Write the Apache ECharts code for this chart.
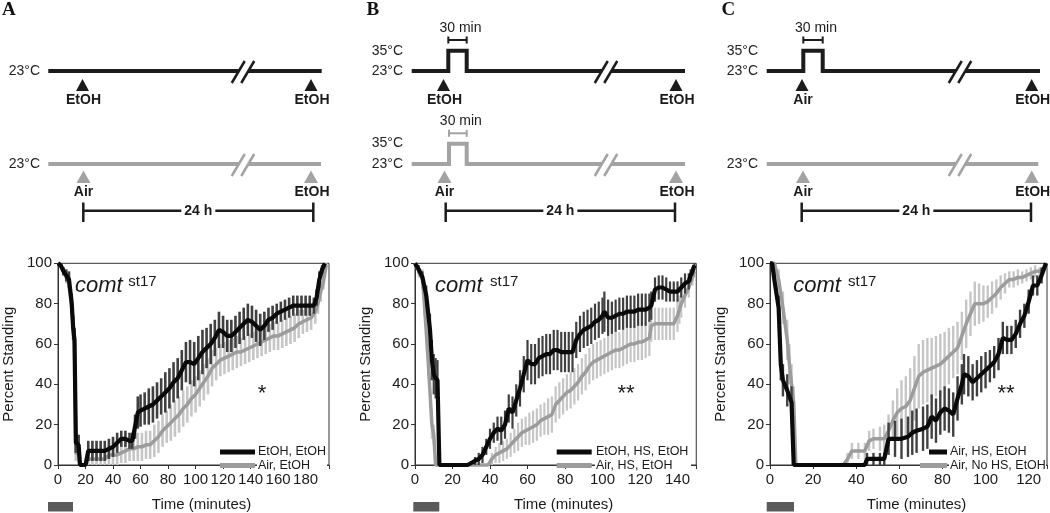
<!DOCTYPE html>
<html>
<head>
<meta charset="utf-8">
<script src="https://cdn.jsdelivr.net/npm/echarts/dist/echarts.min.js"></script>
<style>
html,body{margin:0;padding:0;background:#fff;}
#chart{width:1050px;height:513px;}
</style>
</head>
<body>
<div id="chart"></div>
<script>
// ---------------- DATA ----------------
const yTicks = [0, 20, 40, 60, 80, 100];
const xTickStep = 20;

// Panel A
const aBlackT = [0,2,4,6,8,10,11,12,13,15,16,18,20,21,22,25,28,31,34,37,40,43,46,49,52,54,56,58,60,63,66,69,72,75,78,81,84,87,90,93,96,99,102,105,108,111,114,117,120,123,126,129,132,135,138,141,144,147,150,153,156,159,162,165,168,171,174,177,180,183,186,188,190,192,194];
const aBlackV = [100,99,96,94,92,80,68,62,11,10,0,0,0,0,7,7,7,7,7,8,9,11,13,13,12,12,19,26,27,28,29,30,32,34,36,38,41,43,47,51,51,50,53,56,58,60,63,67,66,64,64,66,68,70,72,71,69,67,69,72,73,75,76,77,78,79,79,79,79,79,79,83,92,97,100];
const aBlackE = [0,1,2,3,4,5,6,6,5,5,0,0,0,0,5,5,5,5,5,5,5,5,4,4,4,4,6,8,8,8,9,9,9,9,10,10,10,10,10,10,11,11,11,11,10,10,9,9,8,8,8,8,8,8,8,8,8,8,7,6,6,5,5,5,5,5,5,5,5,5,4,4,4,2,0];
const aGrayT = [0,2,4,6,8,10,12,13,15,16,18,20,22,25,28,31,34,37,40,43,46,49,52,55,58,61,64,67,70,73,76,79,82,85,88,91,94,97,100,103,106,109,112,115,118,121,124,127,130,133,136,139,142,145,148,151,154,157,160,163,166,169,172,175,178,181,184,187,189,191,193,195];
const aGrayV = [100,99,96,93,90,78,60,6,5,0,0,0,3,3,3,3,3,5,5,5,6,7,8,8,9,9,10,10,12,14,17,19,21,23,25,28,30,33,35,38,41,44,48,50,52,53,54,55,56,56,57,58,59,60,61,62,63,64,64,65,66,67,68,70,71,72,73,76,80,86,91,99];
const aGrayE = [0,1,2,3,4,5,6,4,4,0,0,0,3,3,3,3,4,5,5,5,5,6,6,6,7,7,7,7,8,8,8,8,9,9,9,9,9,9,9,9,9,9,9,8,8,8,8,8,8,7,7,7,7,7,7,7,7,7,7,7,7,7,7,7,6,6,6,6,5,5,4,1];

// Panel B
const bBlackT = [0,2,4,6,8,9,10,11,12,13,15,20,25,28,30,32,34,36,38,40,42,44,46,48,50,52,54,56,58,60,62,64,66,68,70,72,74,76,78,80,82,84,86,88,90,92,94,96,98,100,101,103,105,107,109,111,113,115,117,119,121,123,125,126,128,130,132,134,136,138,140,142,144,146,147,148,149];
const bBlackV = [100,97,93,84,67,52,45,43,42,0,0,0,0,0,1,2,3,5,9,13,16,18,17,20,28,26,32,38,45,52,50,50,53,54,55,55,57,57,56,56,56,56,62,65,67,68,69,71,72,74,76,73,73,74,75,75,76,76,76,77,77,77,78,79,87,88,88,87,86,86,86,88,90,91,94,96,99];
const bBlackE = [0,2,3,5,8,10,10,10,10,0,0,0,0,0,1,2,3,4,4,5,5,6,7,7,7,8,8,9,9,10,10,10,10,10,10,10,10,10,10,10,10,10,9,9,9,9,9,9,9,9,10,9,8,8,8,8,8,8,8,8,8,8,7,7,6,6,6,6,5,5,5,5,5,4,3,2,1];
const bGrayT = [0,2,4,5,7,9,10,11,12,15,20,25,30,35,39,41,43,45,47,49,51,53,55,57,59,61,63,65,67,69,71,73,75,77,79,81,83,85,87,89,91,93,95,97,99,101,103,105,107,109,111,113,115,117,119,121,123,125,126,128,130,132,134,136,138,140,141,142,144,146,148,149];
const bGrayV = [100,96,92,80,52,20,15,0,0,0,0,0,0,0,0,3,5,6,7,8,10,12,14,16,17,18,19,20,22,23,24,25,30,32,34,36,37,39,41,44,46,49,51,52,53,54,55,56,57,57,58,59,60,60,61,61,62,63,69,70,70,70,70,70,70,74,77,80,84,88,93,96];
const bGrayE = [0,3,5,6,8,7,5,0,0,0,0,0,0,0,0,3,4,5,5,5,6,6,7,7,7,8,8,8,8,8,9,9,9,9,9,9,9,9,9,9,9,9,9,9,9,9,9,9,9,9,9,9,9,9,9,9,9,9,8,8,8,8,8,8,8,8,7,7,6,5,4,3];

// Panel C
const cBlackT = [0,1,2,4,5,6,8,10,11,15,20,25,30,35,40,44,45,48,51,53,55,58,61,64,66,68,71,73,75,77,79,81,83,85,87,89,90,92,94,96,98,100,102,104,106,108,110,112,114,116,118,120,122,124,126,128];
const cBlackV = [100,100,92,78,50,42,37,31,0,0,0,0,0,0,0,0,3,3,3,3,13,13,13,14,16,17,18,19,24,22,26,28,27,25,33,40,45,44,41,43,45,47,49,51,55,63,62,62,65,70,74,81,89,89,94,100];
const cBlackE = [0,0,3,6,8,8,8,8,0,0,0,0,0,0,0,0,3,3,3,3,8,9,10,10,11,11,11,11,11,11,11,11,11,11,11,10,10,10,9,9,9,9,8,8,8,8,7,7,7,7,6,6,5,5,4,1];
const cGrayT = [0,2,4,6,8,9,10,11,12,15,20,25,30,34,36,38,41,44,46,48,51,53,55,57,59,61,63,65,67,69,71,73,75,77,79,81,83,85,87,89,91,93,95,97,99,101,103,105,107,109,111,113,115,117,119,121,123,125,127,128];
const cGrayV = [100,100,92,78,62,50,40,31,0,0,0,0,0,0,3,7,7,7,12,13,13,13,17,22,26,28,29,32,38,44,46,47,48,49,50,52,54,56,58,64,70,75,80,80,80,81,83,85,88,90,92,92,93,93,94,95,96,96,97,99];
const cGrayE = [0,2,5,8,10,10,10,8,0,0,0,0,0,0,3,4,4,4,5,5,6,7,8,10,12,14,15,16,16,16,16,16,15,15,15,14,14,13,13,12,12,11,11,10,9,8,8,7,6,5,4,4,4,3,3,3,3,2,2,1];

// Labels
const legendA = ['EtOH, EtOH', 'Air, EtOH'];
const legendB = ['EtOH, HS, EtOH', 'Air, HS, EtOH'];
const legendC = ['Air, HS, EtOH', 'Air, No HS, EtOH'];

// ---------------- CHART ----------------
const FONT = '"Liberation Sans", Arial, Helvetica, sans-serif';
const BLACK = '#0a0a0a', GRAY = '#9c9c9c', DARKERR = '#404040', LIGHTERR = '#c6c6c6';

function lineData(T, V) { return T.map((t, i) => [t, V[i]]); }
function errData(T, V, E) { return T.map((t, i) => [t, Math.max(0, V[i] - E[i]), Math.min(100, V[i] + E[i])]); }
function errRender(color, w) {
  return function (params, api) {
    const x = api.value(0);
    const p1 = api.coord([x, api.value(1)]);
    const p2 = api.coord([x, api.value(2)]);
    if (Math.abs(p1[1] - p2[1]) < 0.5) return null;
    return { type: 'line', shape: { x1: p1[0], y1: p1[1], x2: p2[0], y2: p2[1] }, style: { stroke: color, lineWidth: w } };
  };
}

const panels = [
  { grid: { left: 50, top: 263.3, width: 279, height: 210 }, xmax: 197, errW: 2.6,
    black: [aBlackT, aBlackV, aBlackE], gray: [aGrayT, aGrayV, aGrayE], names: legendA,
    leg: { bx: [220, 255], gx: [220, 255], tx: 258, tw: 70 } },
  { grid: { left: 415, top: 263.3, width: 281.25, height: 210 }, xmax: 150, errW: 2.2,
    black: [bBlackT, bBlackV, bBlackE], gray: [bGrayT, bGrayV, bGrayE], names: legendB,
    leg: { bx: [556.7, 591.7], gx: [556.7, 591.7], tx: 596, tw: 96 } },
  { grid: { left: 770, top: 263.3, width: 278.5, height: 210 }, xmax: 128.5, errW: 2.4,
    black: [cBlackT, cBlackV, cBlackE], gray: [cGrayT, cGrayV, cGrayE], names: legendC,
    leg: { bx: [929, 947], gx: [920, 947], tx: 950, tw: 97 } }
];

const option = {
  animation: false,
  backgroundColor: '#fff',
  textStyle: { fontFamily: FONT },
  grid: [], xAxis: [], yAxis: [], series: [], graphic: []
};
const G = option.graphic;
function txt(x, y, text, size, opts) {
  opts = opts || {};
  G.push({ type: 'text', x: x, y: y, silent: true, z: opts.z || 100, style: {
    text: text, fill: opts.fill || '#1a1a1a', align: opts.align || 'left', verticalAlign: opts.va || 'middle',
    font: (opts.style || 'normal') + ' ' + (opts.weight || 'normal') + ' ' + size + 'px ' + (opts.family || FONT) } });
}

panels.forEach((p, k) => {
  option.grid.push(Object.assign({ show: true, borderColor: '#333', borderWidth: 1, backgroundColor: 'transparent' }, p.grid));
  option.xAxis.push({
    type: 'value', gridIndex: k, min: 0, max: p.xmax, interval: xTickStep,
    name: 'Time (minutes)', nameLocation: 'middle', nameGap: 32,
    nameTextStyle: { fontSize: 15, color: '#1a1a1a', fontFamily: FONT, padding: [0, 0, 0, 16] },
    axisLine: { show: true, lineStyle: { color: '#333', width: 1 } },
    axisTick: { show: true, length: 4, inside: false, lineStyle: { color: '#333' } },
    axisLabel: { fontSize: 15, color: '#1a1a1a', margin: 7, fontFamily: FONT,
      formatter: v => (v % xTickStep === 0 ? String(v) : '') },
    splitLine: { show: false }
  });
  option.yAxis.push({
    type: 'value', gridIndex: k, min: yTicks[0], max: yTicks[yTicks.length - 1], interval: yTicks[1] - yTicks[0],
    name: 'Percent Standing', nameLocation: 'middle', nameGap: 42,
    nameTextStyle: { fontSize: 15, color: '#1a1a1a', fontFamily: FONT },
    axisLine: { show: true, lineStyle: { color: '#333', width: 1 } },
    axisTick: { show: true, length: 4, inside: false, lineStyle: { color: '#333' } },
    axisLabel: { fontSize: 15, color: '#1a1a1a', margin: 6, fontFamily: FONT },
    splitLine: { show: false }
  });
  const [bt, bv, be] = p.black, [gt, gv, ge] = p.gray;
  option.series.push(
    { type: 'custom', xAxisIndex: k, yAxisIndex: k, z: 1, silent: true, name: 'err-gray-' + k,
      renderItem: errRender(LIGHTERR, p.errW), encode: { x: 0, y: [1, 2] }, data: errData(gt, gv, ge) },
    { type: 'line', xAxisIndex: k, yAxisIndex: k, z: 2, name: p.names[1],
      data: lineData(gt, gv), showSymbol: false, symbol: 'none', clip: false,
      lineStyle: { color: GRAY, width: 3.5 }, itemStyle: { color: GRAY } },
    { type: 'custom', xAxisIndex: k, yAxisIndex: k, z: 3, silent: true, name: 'err-black-' + k,
      renderItem: errRender(DARKERR, p.errW), encode: { x: 0, y: [1, 2] }, data: errData(bt, bv, be) },
    { type: 'line', xAxisIndex: k, yAxisIndex: k, z: 4, name: p.names[0],
      data: lineData(bt, bv), showSymbol: false, symbol: 'none', clip: false,
      lineStyle: { color: BLACK, width: 4.2 }, itemStyle: { color: BLACK } }
  );
  // legend (drawn as graphics, white backing behind the labels)
  const L = p.leg;
  G.push({ type: 'rect', silent: true, z: 98, shape: { x: L.tx - 1, y: 445, width: L.tw, height: 27 }, style: { fill: '#fff' } });
  G.push({ type: 'rect', silent: true, z: 99, shape: { x: L.bx[0], y: 449.5, width: L.bx[1] - L.bx[0], height: 5 }, style: { fill: BLACK } });
  G.push({ type: 'rect', silent: true, z: 99, shape: { x: L.gx[0], y: 463, width: L.gx[1] - L.gx[0], height: 5 }, style: { fill: GRAY } });
  txt(L.tx, 452, p.names[0], 12.5, { z: 101 });
  txt(L.tx, 465.5, p.names[1], 12.5, { z: 101 });
});

// ---------------- GRAPHICS (schematics, annotations) ----------------
function poly(points, stroke, w) {
  G.push({ type: 'polyline', silent: true, z: 90, shape: { points: points }, style: { stroke: stroke, lineWidth: w, fill: null, lineJoin: 'miter', lineCap: 'butt' } });
}
function tri(cx, yTop, half, h, color) {
  G.push({ type: 'polygon', silent: true, z: 90, shape: { points: [[cx, yTop], [cx - half, yTop + h], [cx + half, yTop + h]] }, style: { fill: color } });
}
function brk(cx, y, color) {
  const d = 4.75, dx = 6.5, dy = 11;
  G.push({ type: 'polygon', silent: true, z: 91, shape: { points: [[cx - d - dx, y + dy], [cx - d + dx, y - dy], [cx + d + dx, y - dy], [cx + d - dx, y + dy]] }, style: { fill: '#fff' } });
  G.push({ type: 'line', silent: true, z: 92, shape: { x1: cx - d - dx, y1: y + dy, x2: cx - d + dx, y2: y - dy }, style: { stroke: color, lineWidth: 2.5 } });
  G.push({ type: 'line', silent: true, z: 92, shape: { x1: cx + d - dx, y1: y + dy, x2: cx + d + dx, y2: y - dy }, style: { stroke: color, lineWidth: 2.5 } });
}
function tempLine(x0, x1, y, pulse, color) {
  let pts;
  if (pulse) pts = [[x0, y], [pulse[0], y], [pulse[0], y - 20.3], [pulse[1], y - 20.3], [pulse[1], y], [x1, y]];
  else pts = [[x0, y], [x1, y]];
  poly(pts, color, 4);
}
function minBracket(px, y, color) {
  G.push({ type: 'line', silent: true, z: 90, shape: { x1: px[0], y1: y, x2: px[1], y2: y }, style: { stroke: color, lineWidth: 2 } });
  G.push({ type: 'line', silent: true, z: 90, shape: { x1: px[0], y1: y - 3.5, x2: px[0], y2: y + 3.5 }, style: { stroke: color, lineWidth: 2 } });
  G.push({ type: 'line', silent: true, z: 90, shape: { x1: px[1], y1: y - 3.5, x2: px[1], y2: y + 3.5 }, style: { stroke: color, lineWidth: 2 } });
  txt((px[0] + px[1]) / 2 + 3, y - 12, '30 min', 14, { align: 'center' });
}

const schem = [
  { letter: 'A', lx: 2, labR: 40, x0: 48.3, x1: 321.7, x1b: 321, topPulse: null, botPulse: null, brk: 243,
    tri: [82.5, 311], top: ['EtOH', 'EtOH'], bot: ['Air', 'EtOH'], br: [83.3, 313.3], grayRect: [48, 73] },
  { letter: 'B', lx: 366.5, labR: 403, x0: 411.7, x1: 685, x1b: 685, topPulse: [448.3, 466.7], botPulse: [449, 466.7], brk: 606,
    tri: [443.5, 676], top: ['EtOH', 'EtOH'], bot: ['Air', 'EtOH'], br: [445.7, 675], grayRect: [413.3, 439.3] },
  { letter: 'C', lx: 721.5, labR: 758, x0: 766.7, x1: 1040, x1b: 1038.3, topPulse: [803.3, 822.7], botPulse: null, brk: 960,
    tri: [802, 1031.7], top: ['Air', 'EtOH'], bot: ['Air', 'EtOH'], br: [801.7, 1031], grayRect: [766.7, 794] }
];
const SBLACK = '#1c1c1c', SGRAY = '#a3a3a3';
schem.forEach(s => {
  txt(s.lx, 10, s.letter, 19, { weight: 'bold', family: '"Liberation Serif", "Times New Roman", serif', fill: '#111' });
  // top row
  tempLine(s.x0, s.x1, 71, s.topPulse, SBLACK);
  brk(s.brk, 72, SBLACK);
  txt(s.labR, 71, '23\u00B0C', 14, { align: 'right', fill: '#222' });
  if (s.topPulse) { txt(s.labR, 50.7, '35\u00B0C', 14, { align: 'right', fill: '#222' }); minBracket(s.topPulse, 40, SBLACK); }
  tri(s.tri[0], 79, 6.5, 12, SBLACK); tri(s.tri[1], 79, 6.5, 12, SBLACK);
  txt(s.tri[0] + 1, 100, s.top[0], 14, { align: 'center', weight: 'bold' });
  txt(s.tri[1] + 1, 100, s.top[1], 14, { align: 'center', weight: 'bold' });
  // bottom row
  tempLine(s.x0, s.x1b, 164, s.botPulse, SGRAY);
  brk(s.brk, 165, SGRAY);
  txt(s.labR, 164, '23\u00B0C', 14, { align: 'right', fill: '#222' });
  if (s.botPulse) { txt(s.labR, 143.3, '35\u00B0C', 14, { align: 'right', fill: '#222' }); minBracket(s.botPulse, 133.3, SGRAY); }
  tri(s.tri[0] + 1, 170.5, 7, 12.5, SGRAY); tri(s.tri[1], 170.5, 7, 12.5, SGRAY);
  txt(s.tri[0] + 1, 192.5, s.bot[0], 14, { align: 'center', weight: 'bold' });
  txt(s.tri[1] + 1, 192.5, s.bot[1], 14, { align: 'center', weight: 'bold' });
  // 24 h bracket
  G.push({ type: 'line', silent: true, z: 90, shape: { x1: s.br[0], y1: 210.7, x2: s.br[1], y2: 210.7 }, style: { stroke: SBLACK, lineWidth: 2.5 } });
  G.push({ type: 'line', silent: true, z: 90, shape: { x1: s.br[0], y1: 202.5, x2: s.br[0], y2: 222 }, style: { stroke: SBLACK, lineWidth: 2.5 } });
  G.push({ type: 'line', silent: true, z: 90, shape: { x1: s.br[1], y1: 202.5, x2: s.br[1], y2: 222 }, style: { stroke: SBLACK, lineWidth: 2.5 } });
  const mid = (s.br[0] + s.br[1]) / 2;
  G.push({ type: 'rect', silent: true, z: 91, shape: { x: mid - 17, y: 203, width: 34, height: 15 }, style: { fill: '#fff' } });
  txt(mid, 211, '24 h', 14, { align: 'center', weight: 'bold' });
  // gray exposure bar under x axis
  G.push({ type: 'rect', silent: true, z: 90, shape: { x: s.grayRect[0], y: 502, width: s.grayRect[1] - s.grayRect[0], height: 9.5 }, style: { fill: '#5b5b5b' } });
});

// genotype labels and asterisks
const genoPos = [[75, 128.3], [435, 490], [793.3, 848]];
genoPos.forEach(g => {
  txt(g[0], 286, 'comt', 22, { style: 'italic' });
  txt(g[1], 281.5, 'st17', 15, {});
});
txt(262, 394, '*', 22, { align: 'center' });
txt(626, 394, '**', 22, { align: 'center' });
txt(1006, 394, '**', 22, { align: 'center' });

const chart = echarts.init(document.getElementById('chart'), null, { renderer: 'canvas' });
chart.setOption(option);
</script>
</body>
</html>
